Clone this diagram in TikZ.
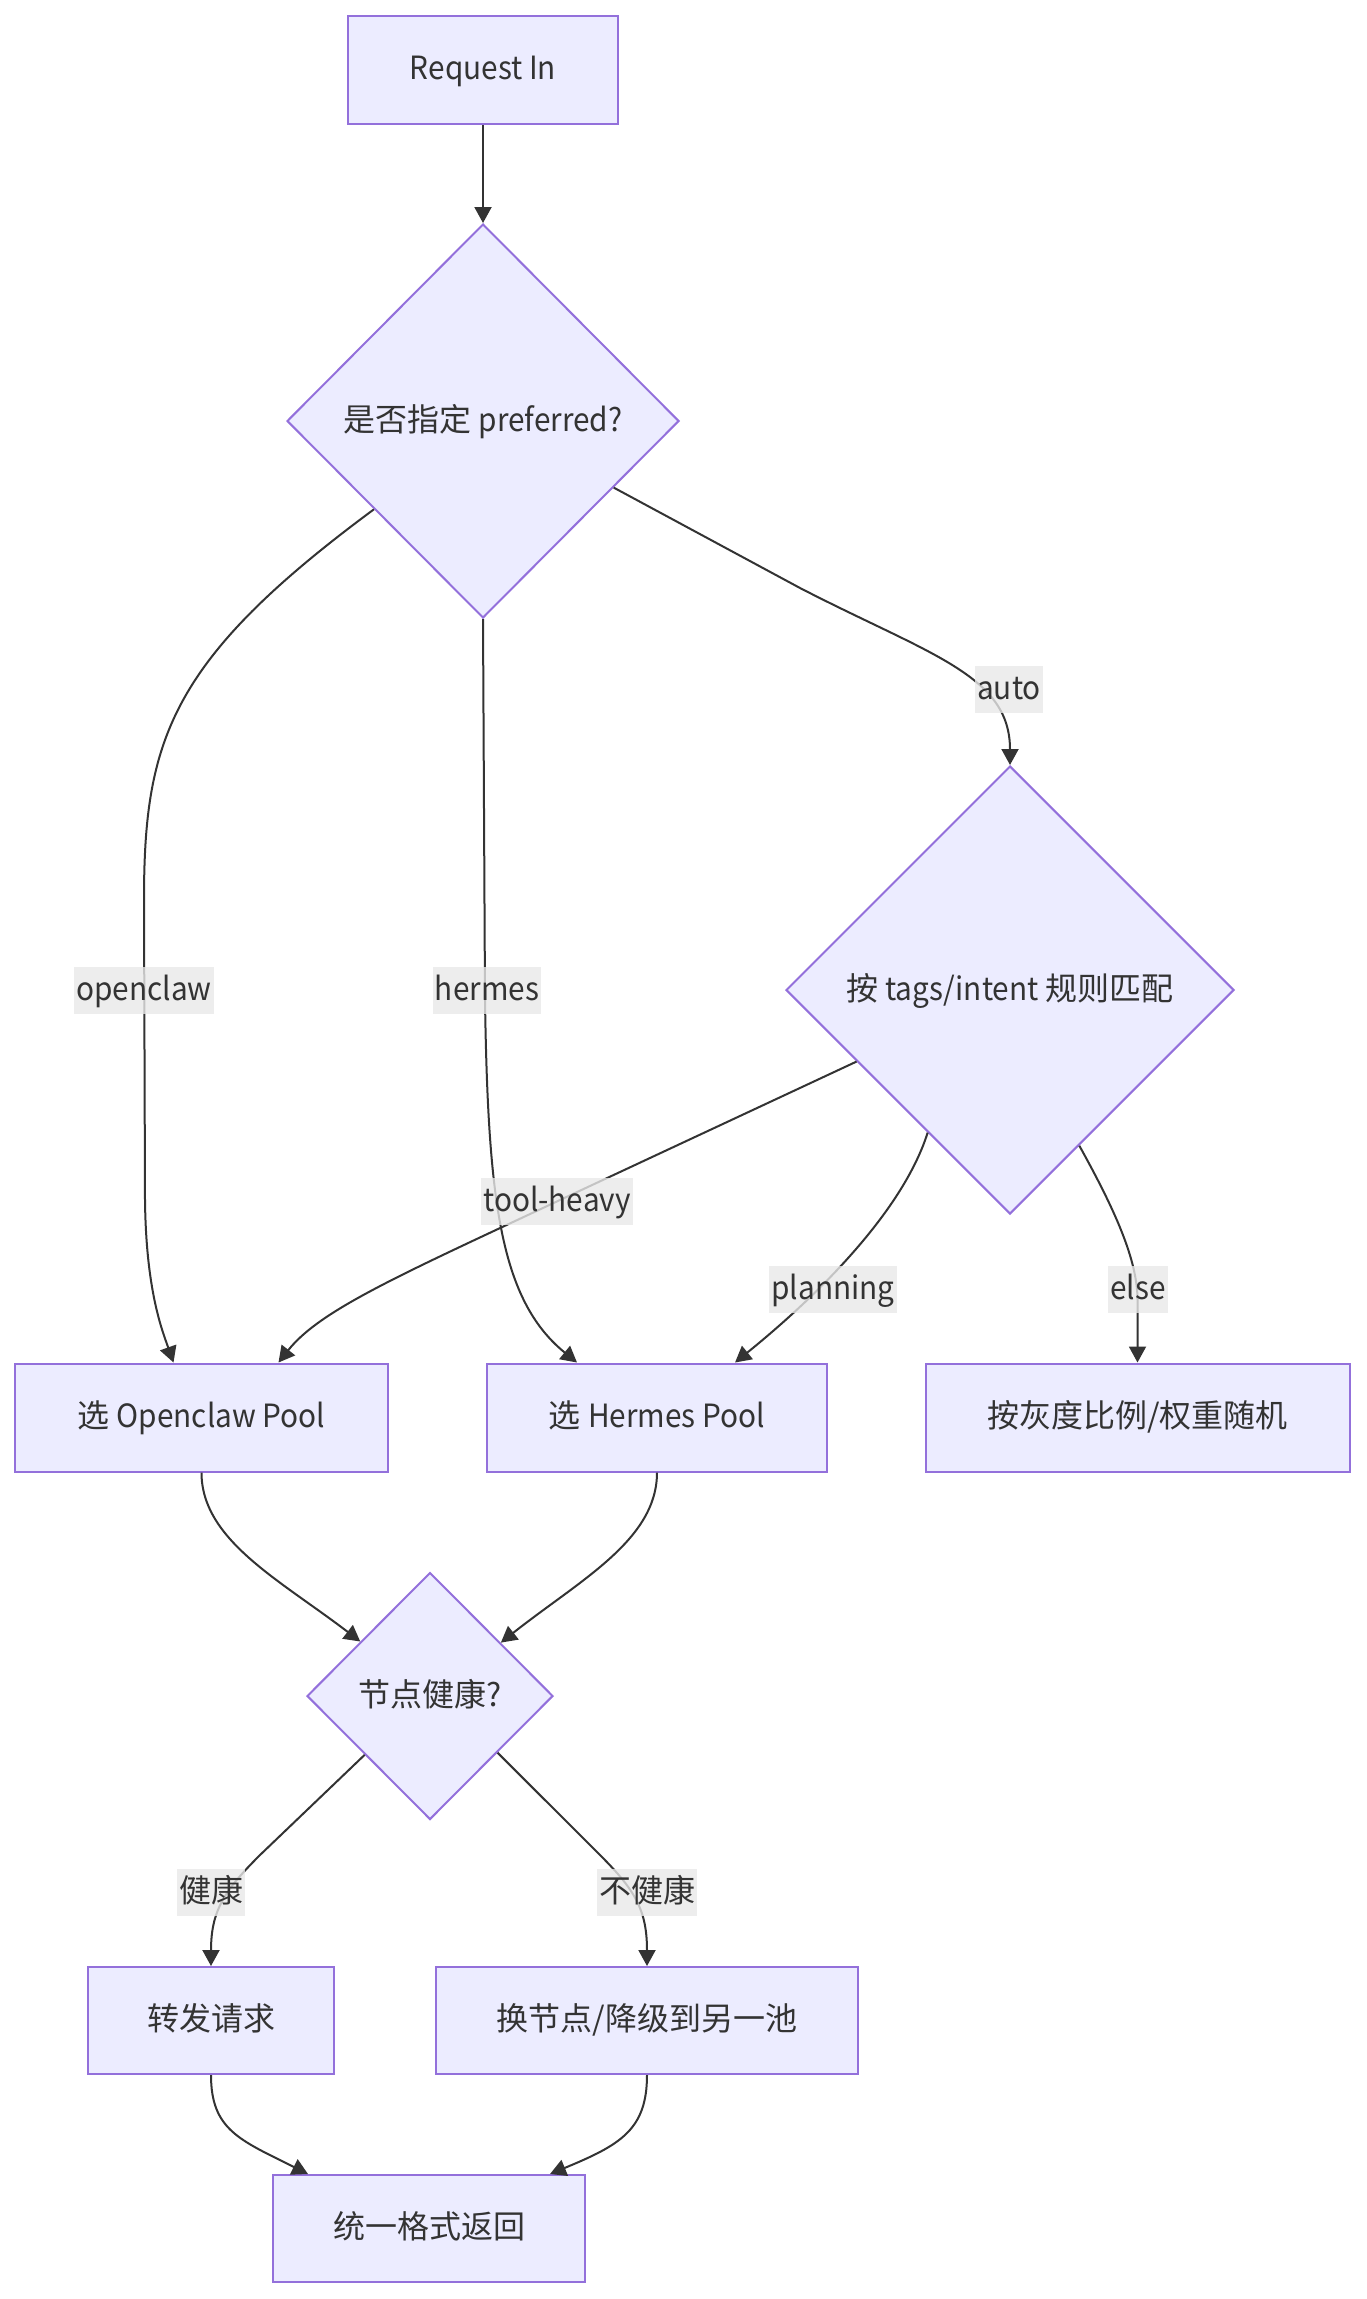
\documentclass[tikz,border=0pt]{standalone}
\usepackage{fontspec}
\setmainfont{Noto Sans CJK SC}
\newfontfamily\lat{Noto Sans CJK SC}[FakeStretch=0.93]
\usetikzlibrary{shapes.geometric,arrows.meta,calc}
\definecolor{nfill}{HTML}{ECECFF}
\definecolor{nstroke}{HTML}{9370DB}
\definecolor{edgec}{HTML}{333333}
\definecolor{lblbg}{HTML}{E8E8E8}
\begin{document}
\begin{tikzpicture}[x=1pt,y=-1pt,
  every node/.style={font=\fontsize{32pt}{38pt}\selectfont, text=edgec, text height=26pt, text depth=6pt},
  box/.style={draw=nstroke, fill=nfill, line width=2pt, rectangle, inner sep=0pt},
  dec/.style={draw=nstroke, fill=nfill, line width=2pt, diamond, inner sep=0pt},
  arr/.style={draw=edgec, line width=2pt, -{Triangle[length=16pt,width=17pt]}},
  lbl/.style={fill=lblbg, fill opacity=0.8, text opacity=1, inner xsep=2pt, inner ysep=0pt, minimum height=47pt}
]
\useasboundingbox (0,0) rectangle (1367,2299);

% nodes
\node[box, minimum width=270pt, minimum height=108pt] (req) at (483,70) {\lat Request In};
\node[dec, minimum width=392pt, minimum height=394pt] (d1) at (483,421) {是否指定 {\lat preferred?}};
\node[dec, minimum width=448pt, minimum height=448pt] (d2) at (1010,990) {按 {\lat tags/intent} 规则匹配};
\node[box, minimum width=373pt, minimum height=108pt] (oc) at (201.5,1417.5) {选 {\lat Openclaw Pool}};
\node[box, minimum width=340pt, minimum height=108pt] (hp) at (657,1417.5) {选 {\lat Hermes Pool}};
\node[box, minimum width=424pt, minimum height=108pt] (gr) at (1137.5,1417.5) {按灰度比例/权重随机};
\node[dec, minimum width=246pt, minimum height=247pt] (d3) at (430,1696) {节点健康?};
\node[box, minimum width=246pt, minimum height=107pt] (fw) at (211,2020.5) {转发请求};
\node[box, minimum width=422pt, minimum height=107pt] (sw) at (647,2020.5) {换节点/降级到另一池};
\node[box, minimum width=312pt, minimum height=107pt] (ret) at (429,2228.5) {统一格式返回};

% edges
\draw[arr] (req) -- (d1);
\draw[arr] (d1.219) .. controls (170,660) and (144,740) .. (144,900) -- (145,1200) .. controls (146,1290) and (162,1330) .. ($(oc.north)+(-28,0)$);
\draw[arr] (d1.south) -- (485,1000) .. controls (488,1200) and (500,1300) .. ($(hp.north)+(-80,0)$);
\draw[arr] (d1.333) -- (800,588) .. controls (930,655) and (1010,675) .. (d2.north);
\draw[arr] (d2.205) -- (560,1200) .. controls (400,1275) and (320,1310) .. ($(oc.north)+(77,0)$);
\draw[arr] (d2.240) .. controls (900,1220) and (800,1310) .. ($(hp.north)+(78,0)$);
\draw[arr] (d2.294.5) .. controls (1115,1210) and (1137.5,1260) .. (1137.5,1300) -- (gr.north);
\draw[arr] (oc.south) .. controls (201.5,1540) and (280,1580) .. (d3.142);
\draw[arr] (hp.south) .. controls (657,1540) and (580,1580) .. (d3.37);
\draw[arr] (d3.222) -- (260,1855) .. controls (225,1890) and (211,1910) .. (fw.north);
\draw[arr] (d3.320) -- (600,1855) .. controls (635,1890) and (647,1910) .. (sw.north);
\draw[arr] (fw.south) .. controls (211,2130) and (240,2140) .. ($(ret.north)+(-121,0)$);
\draw[arr] (sw.south) .. controls (647,2130) and (620,2145) .. ($(ret.north)+(121,0)$);

% edge labels
\node[lbl] (lauto) at (1009,689) {\lat auto};
\node[lbl] (lopen) at (144,990) {\lat openclaw};
\node[lbl] (lherm) at (487,990) {\lat hermes};
\node[lbl] (ltool) at (557,1201) {\lat tool-heavy};
\node[lbl] (lplan) at (833,1289) {\lat planning};
\node[lbl] (lelse) at (1138,1289) {\lat else};
\node[lbl] (lok) at (211,1892) {健康};
\node[lbl] (lbad) at (647,1892) {不健康};
\end{tikzpicture}
\end{document}
